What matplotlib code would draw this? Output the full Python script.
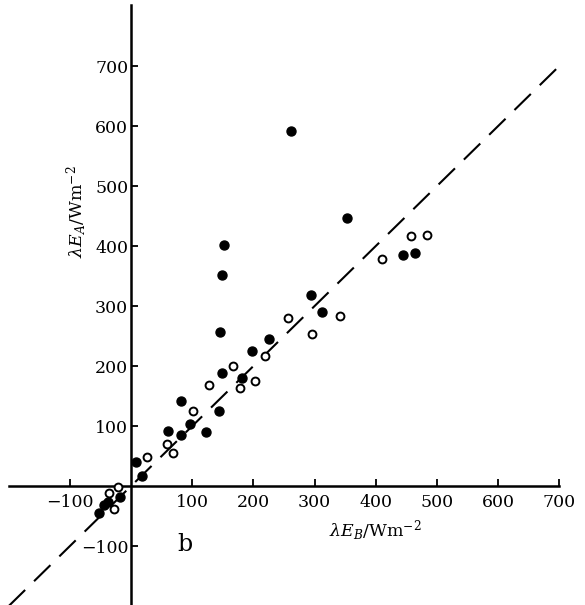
import numpy as np
import matplotlib
matplotlib.use('Agg')
import matplotlib.pyplot as plt

# (W m^-2)
filled_x = [261, 353, 152, 148, 294, 313, 145, 226, 197, 149, 181, 82, 144, 96, 60, 123, 81,
            444, 465, 8, 18, -18, -37, -44, -53]
filled_y = [592, 446, 402, 351, 318, 290, 257, 245, 226, 189, 180, 142, 125, 103, 92, 91, 85,
            385, 389, 41, 17, -18, -26, -32, -45]

open_x = [257, 342, 296, 219, 166, 127, 203, 179, 101, 59, 68, 458, 484, 410, 26, -21, -36, -27]
open_y = [281, 283, 254, 217, 200, 168, 176, 163, 126, 71, 56, 416, 418, 378, 48, -1, -12, -38]

x_ticks = [-100, 100, 200, 300, 400, 500, 600, 700]
y_ticks = [-100, 100, 200, 300, 400, 500, 600, 700]

# 1:1 line end points
line_x = [-230, 695]

plt.rcParams['mathtext.fontset'] = 'dejavuserif'
plt.rcParams['font.family'] = 'DejaVu Serif'

fig = plt.figure(figsize=(5.85, 6.05), dpi=100)
ax = fig.add_axes([0, 0, 1, 1])
ax.set_xlim(-214, 742)
ax.set_ylim(-198, 810)

ax.plot(line_x, line_x, color='black', lw=1.5, ls=(0, (11, 6)), zorder=1)

ax.scatter(filled_x, filled_y, s=42, color='black', zorder=3)
ax.scatter(open_x, open_y, s=32, facecolors='white', edgecolors='black', linewidths=1.4, zorder=3)

# axes through the origin
for side in ['top', 'right']:
    ax.spines[side].set_visible(False)
ax.spines['left'].set_position(('data', 0))
ax.spines['bottom'].set_position(('data', 0))
ax.spines['left'].set_bounds(-200, 802)
ax.spines['bottom'].set_bounds(-200, 700)
ax.spines['left'].set_linewidth(1.8)
ax.spines['bottom'].set_linewidth(1.8)

ax.set_xticks(x_ticks)
ax.set_yticks(y_ticks)
ax.set_xticklabels(['\u2212100' if t < 0 else str(t) for t in x_ticks])
ax.set_yticklabels(['\u2212100' if t < 0 else str(t) for t in y_ticks])
ax.tick_params(axis='x', direction='in', length=5, width=1.3, pad=6, labelsize=12.5)
ax.tick_params(axis='y', direction='in', length=5, width=1.3, pad=2, labelsize=12.5)

ax.text(399, -75, r'$\lambda E_B/\mathrm{Wm}^{-2}$', fontsize=12.5, ha='center', va='center')
ax.text(-89, 457, r'$\lambda E_A/\mathrm{Wm}^{-2}$', fontsize=12.5, ha='center', va='center',
        rotation=90)
ax.text(88, -98, 'b', fontsize=17, ha='center', va='center')

fig.savefig('out.png', dpi=100)
